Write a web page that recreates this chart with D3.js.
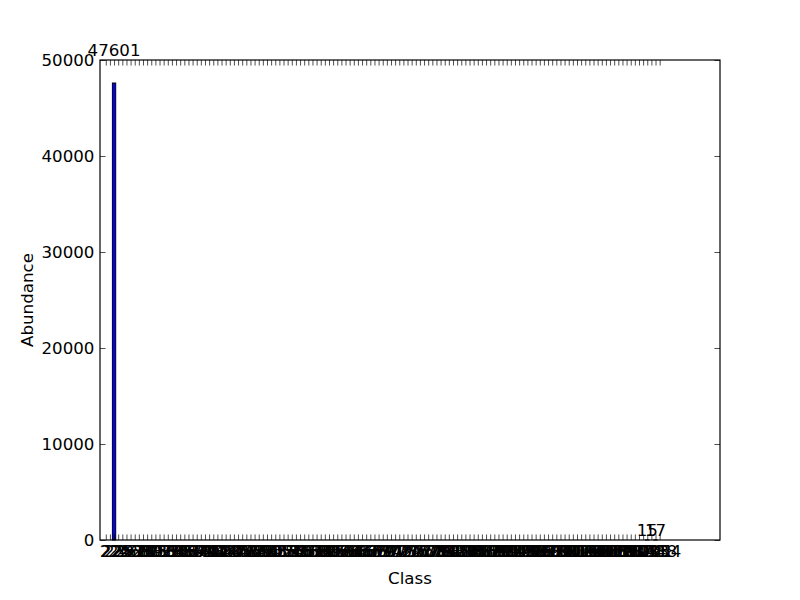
<!DOCTYPE html>
<html><head><meta charset="utf-8">
<script src="https://cdn.jsdelivr.net/npm/d3@7"></script>
<style>body{margin:0;background:#fff}svg{display:block}text{font-family:"DejaVu Sans",sans-serif}</style>
</head><body><svg id="c" width="800" height="600"></svg>
<script>
const classes = [
"2","22","23","24","25","253","261","268","274","281","289",
"295","302","310","317","323","330","338","345","351","359","364",
"372","379","385","393","401","406","414","420","427","435","442",
"448","456","463","469","477","484","490","498","505","511","519",
"526","532","540","547","553","561","568","574","582","589","595",
"603","610","616","624","631","637","645","652","658","666","673",
"679","687","694","700","708","715","721","729","736","742","750",
"757","763","771","778","784","792","799","805","813","820","826",
"834","841","847","855","862","868","876","883","889","897","904",
"910","918","925","931","939","946","952","960","967","973","981",
"988","994","1002","1009","1015","1023","1030","1036","1044","1051","1057",
"1065","1072","1078","1086","1093","1099","1107","1114","1120","1128","1133",
"1141","1148","1154"
];
const abundance = [
0,0,47601,
0,0,0,0,0,0,0,0,0,0,0,0,0,0,0,0,
0,0,0,0,0,0,0,0,0,0,0,0,0,0,0,0,
0,0,0,0,0,0,0,0,0,0,0,0,0,0,0,0,
0,0,0,0,0,0,0,0,0,0,0,0,0,0,0,0,
0,0,0,0,0,0,0,0,0,0,0,0,0,0,0,0,
0,0,0,0,0,0,0,0,0,0,0,0,0,0,0,0,
0,0,0,0,0,0,0,0,0,0,0,0,0,0,0,0,
0,0,0,0,0,0,0,0,0,0,0,0,0,0,0,0,
15,0,17,0
];
const yTicks = [0,10000,20000,30000,40000,50000];

const FS = 16.67, TICK = 5.56, PAD = 5.56, BW = 0.8;
const x = d3.scaleLinear().domain([0,150]).range([100,720]);
const y = d3.scaleLinear().domain([0,50000]).range([540,60]);
const svg = d3.select('#c');
svg.append('rect').attr('width',800).attr('height',600).attr('fill','#fff');

const pos = abundance.map((c,i)=>i+1+BW/2);

// bars
svg.append('g').selectAll('rect').data(abundance).join('rect')
  .attr('x',(d,i)=>x(i+1)).attr('width',x(1+BW)-x(1))
  .attr('y',d=>y(d)).attr('height',d=>y(0)-y(d))
  .attr('fill','#0000ff').attr('stroke','#000').attr('stroke-width',1);

// axes
const axB = d3.axisBottom(x).tickValues(pos).tickSizeInner(-TICK).tickSizeOuter(0).tickPadding(PAD)
  .tickFormat((d,i)=>classes[i]);
const gB = svg.append('g').attr('transform','translate(0,540)').call(axB);
const axT = d3.axisTop(x).tickValues(pos).tickSizeInner(-TICK).tickSizeOuter(0).tickFormat('');
const gT = svg.append('g').attr('transform','translate(0,60)').call(axT);
const axL = d3.axisLeft(y).tickValues(yTicks).tickSizeInner(-TICK).tickSizeOuter(0).tickPadding(PAD).tickFormat(d3.format('d'));
const gL = svg.append('g').attr('transform','translate(100,0)').call(axL);
const axR = d3.axisRight(y).tickValues(yTicks).tickSizeInner(-TICK).tickSizeOuter(0).tickFormat('');
const gR = svg.append('g').attr('transform','translate(720,0)').call(axR);
[gB,gT,gL,gR].forEach(g=>{
  g.select('.domain').remove();
  g.selectAll('line').attr('stroke','#000').attr('stroke-width',0.7);
  g.selectAll('text').attr('font-family','DejaVu Sans').attr('font-size',FS).attr('fill','#000');
});

// frame
svg.append('rect').attr('x',100).attr('y',60).attr('width',620).attr('height',480)
  .attr('fill','none').attr('stroke','#000').attr('stroke-width',1.2);

// value labels
svg.append('g').selectAll('text').data(abundance.map((v,i)=>({v,i})).filter(d=>d.v>0)).join('text')
  .attr('x',d=>x(d.i+1+BW/2)).attr('y',d=>y(d.v*1.05)-4)
  .attr('text-anchor','middle').attr('font-size',FS).text(d=>d.v);

// axis titles
svg.append('text').attr('x',410).attr('y',584).attr('text-anchor','middle').attr('font-size',FS).text('Class');
svg.append('text').attr('transform','translate(33,300) rotate(-90)').attr('text-anchor','middle').attr('font-size',FS).text('Abundance');
</script></body></html>
